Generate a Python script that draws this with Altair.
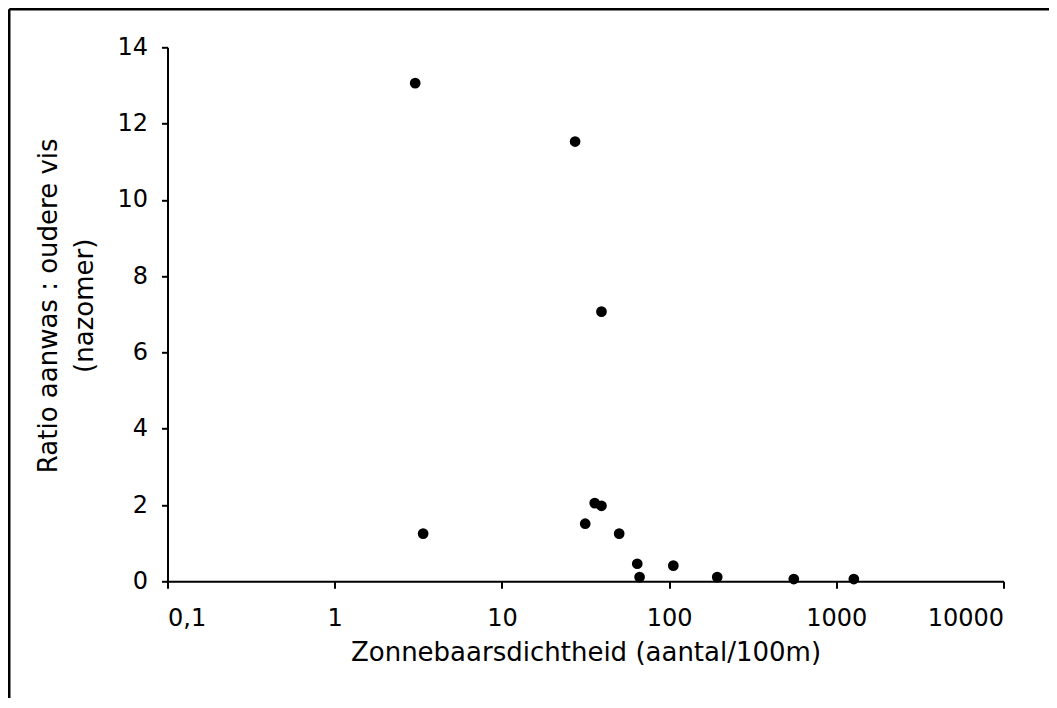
import altair as alt
import pandas as pd

density = [3.03, 27.4, 39.4, 35.9, 39.4, 31.5, 3.38, 50.3, 64.5, 66.6, 106, 194, 557, 1273]
ratio = [13.06, 11.53, 7.07, 2.05, 1.98, 1.51, 1.25, 1.25, 0.46, 0.11, 0.41, 0.11, 0.06, 0.06]
x_ticks = [0.1, 1, 10, 100, 1000, 10000]
y_ticks = [0, 2, 4, 6, 8, 10, 12, 14]

df = pd.DataFrame({"density": density, "ratio": ratio})

FONT = "DejaVu Sans"
W, H = 836, 534
PL, PT = 159.5, 39.3
PR = 1041 - PL - W
PB = 690 - PT - H

points = alt.Chart(df).mark_circle(size=115, color="black", opacity=1).encode(
    x=alt.X(
        "density:Q",
        scale=alt.Scale(type="log", domain=[0.1, 10000]),
        axis=alt.Axis(
            values=x_ticks,
            labelExpr="datum.value < 1 ? '0,1' : format(datum.value, 'd')",
            title="Zonnebaarsdichtheid (aantal/100m)",
            grid=False,
            tickSize=7,
            labelPadding=18,
            titleY=58,
            titleBaseline="top",
        ),
    ),
    y=alt.Y(
        "ratio:Q",
        scale=alt.Scale(domain=[0, 14], nice=False),
        axis=alt.Axis(
            values=y_ticks,
            title=["Ratio aanwas : oudere vis", "(nazomer)"],
            grid=False,
            tickSize=6,
            labelPadding=14,
            titleX=-111,
            titleY=258,
            titleBaseline="alphabetic",
            titleLineHeight=36,
        ),
    ),
)

frame_df = pd.DataFrame({"a": [0]})
top_line = alt.Chart(frame_df).mark_rule(color="black", strokeWidth=2.5, clip=False).encode(
    x=alt.value(-PL + 1.25), x2=alt.value(W + PR), y=alt.value(-PT + 1.25)
)
left_line = alt.Chart(frame_df).mark_rule(color="black", strokeWidth=2.5, clip=False).encode(
    x=alt.value(-PL + 1.25), y=alt.value(-PT + 1.25), y2=alt.value(H + PB)
)

chart = alt.layer(points, top_line, left_line).properties(
    width=W,
    height=H,
    background="white",
    autosize=alt.AutoSizeParams(type="none"),
    padding={"left": PL, "top": PT, "right": PR, "bottom": PB},
).configure_view(stroke="transparent").configure_axis(
    domainColor="black",
    domainWidth=2,
    tickColor="black",
    tickWidth=2,
    labelFont=FONT,
    labelFontSize=24,
    labelColor="black",
    titleFont=FONT,
    titleFontSize=26,
    titleFontWeight="normal",
    titleColor="black",
)

chart.save("out.html", embed_options={"renderer": "svg", "actions": False})
